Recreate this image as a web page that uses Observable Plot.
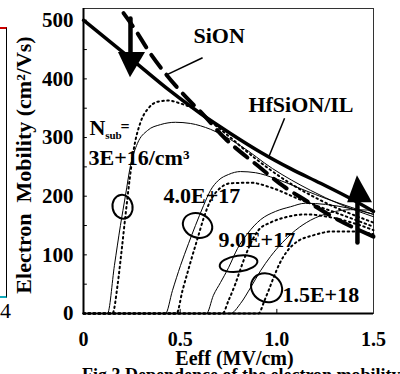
<!DOCTYPE html>
<html><head><meta charset="utf-8">
<script src="https://cdn.jsdelivr.net/npm/d3@7"></script>
<script src="https://cdn.jsdelivr.net/npm/@observablehq/plot@0.6"></script>
<style>
body{margin:0;background:#fff;width:400px;height:374px;overflow:hidden;position:relative;font-family:"Liberation Serif",serif;}
#chart{position:absolute;left:0;top:0;z-index:1;}
#cap{position:absolute;left:82px;top:366px;font-weight:bold;font-size:18px;line-height:18px;white-space:nowrap;z-index:2;}
#frag{position:absolute;left:-2px;top:27px;width:8px;height:267px;border-right:1.5px solid #000;border-top:2px solid #c00;border-bottom:2px solid #1ab;z-index:2;}
#frag4{position:absolute;left:0px;top:298px;font-size:22px;z-index:2;}
</style></head><body>
<div id="chart"></div>
<div id="frag"></div><div id="frag4">4</div>
<div id="cap">Fig.3 Dependence of the electron mobility</div>
<script>
// ---- axes ----
const xTicks = [0, 0.5, 1.0, 1.5];
const xTickLabels = ["0", "0.5", "1.0", "1.5"];
const yTicks = [0, 100, 200, 300, 400, 500];
const yMinorTicks = [50, 100, 150, 200, 250, 300, 350, 400, 450, 500];
const xTitle = "Eeff (MV/cm)";
const yTitle = "Electron\u00a0 Mobility (cm²/Vs)";

// ---- universal curves ----
const hfsionX = [0, 0.243, 0.450, 0.605, 0.760, 0.916, 1.071, 1.226, 1.381, 1.5];
const hfsionY = [500, 435, 379, 341, 307, 275, 247, 222, 196, 174];
const sionX = [0.207, 0.269, 0.336, 0.424, 0.533, 0.605, 0.734, 0.905, 1.034, 1.148, 1.293, 1.5];
const sionY = [512, 483, 448, 409, 368, 344, 298, 251, 217, 193, 164, 131];

// ---- Nsub curves: simulation (solid) ----
const sim3e16X = [0, 0.124, 0.160, 0.191, 0.217, 0.243, 0.279, 0.331, 0.398, 0.476, 0.553, 0.657, 0.812, 0.978, 1.174, 1.329, 1.5];
const sim3e16Y = [0, 0, 82, 150, 201, 252, 290, 312, 322, 326, 324, 314, 286, 247, 210, 186, 165];
const sim4e17X = [0, 0.424, 0.460, 0.502, 0.543, 0.579, 0.621, 0.657, 0.698, 0.750, 0.812, 0.890, 0.993, 1.122, 1.278, 1.5];
const sim4e17Y = [0, 0, 39, 82, 119, 150, 184, 210, 227, 237, 242, 240, 230, 213, 193, 169];
const sim9e17X = [0, 0.636, 0.672, 0.709, 0.750, 0.797, 0.848, 0.916, 0.993, 1.071, 1.148, 1.252, 1.381, 1.5];
const sim9e17Y = [0, 0, 31, 53, 78, 111, 136, 160, 174, 182, 188, 186, 179, 169];
const sim15e18X = [0, 0.760, 0.812, 0.864, 0.916, 0.967, 1.029, 1.097, 1.174, 1.278, 1.381, 1.5];
const sim15e18Y = [0, 0, 17, 44, 73, 97, 121, 142, 159, 172, 177, 176];

// ---- Nsub curves: measured (dotted) ----
const exp3e16X = [0, 0.150, 0.176, 0.197, 0.217, 0.238, 0.259, 0.295, 0.336, 0.383, 0.440, 0.502, 0.564, 0.631, 0.734, 0.890, 1.045, 1.226, 1.5];
const exp3e16Y = [0, 0, 48, 107, 167, 227, 278, 326, 350, 361, 363, 358, 350, 334, 307, 264, 227, 193, 155];
const exp4e17X = [0, 0.481, 0.512, 0.553, 0.590, 0.621, 0.657, 0.698, 0.760, 0.864, 0.967, 1.122, 1.329, 1.5];
const exp4e17Y = [0, 0, 39, 87, 128, 162, 193, 211, 222, 223, 215, 194, 169, 148];
const exp9e17X = [0, 0.719, 0.750, 0.786, 0.822, 0.864, 0.905, 0.967, 1.045, 1.148, 1.278, 1.407, 1.5];
const exp9e17Y = [0, 0, 22, 51, 85, 119, 142, 155, 164, 169, 164, 153, 142];
const exp15e18X = [0, 0.905, 0.936, 0.957, 0.983, 1.014, 1.055, 1.107, 1.185, 1.293, 1.407, 1.5];
const exp15e18Y = [0, 0, 22, 39, 61, 85, 107, 123, 133, 140, 140, 135];

// ---- annotations ----
const labelText = ["SiON", "HfSiON/IL", "3E+16/cm³", "4.0E+17", "9.0E+17", "1.5E+18"];
const labelX = [0.569, 0.853, 0.026, 0.414, 0.698, 1.029];
const labelY = [474, 355, 266, 201, 126, 32];
const nsubText = ["N", "sub", "="];
const nsubX = [0.031, 0.112, 0.192];
const nsubY = [317, 304, 319];
const leaderX1 = [0.424, 1.040], leaderY1 = [406, 333];
const leaderX2 = [0.616, 0.957], leaderY2 = [436, 266];
const arrowName = ["down", "up"];
const arrowX = [0.243, 1.417];
const arrowFrom = [503, 121];
const arrowTo = [445, 189];
const headLeft = [0.181, 1.366], headRight = [0.321, 1.495];
const headTip = [402, 235];
const ovalX = [0.202, 0.590, 0.802, 0.947];
const ovalY = [182, 150, 85, 44];

// ---- build tables ----
const rows = (name, xs, ys) => xs.map((x, i) => ({name, x, y: ys[i]}));
const simRows = [
  ...rows("3e16", sim3e16X, sim3e16Y), ...rows("4e17", sim4e17X, sim4e17Y),
  ...rows("9e17", sim9e17X, sim9e17Y), ...rows("15e18", sim15e18X, sim15e18Y)];
const expRows = [
  ...rows("3e16", exp3e16X, exp3e16Y), ...rows("4e17", exp4e17X, exp4e17Y),
  ...rows("9e17", exp9e17X, exp9e17Y), ...rows("15e18", exp15e18X, exp15e18Y)];
const labels = labelText.map((t, i) => ({t, x: labelX[i], y: labelY[i]}));
const nsub = nsubText.map((t, i) => ({t, x: nsubX[i], y: nsubY[i]}));
const leaders = leaderX1.map((_, i) => ({x1: leaderX1[i], y1: leaderY1[i], x2: leaderX2[i], y2: leaderY2[i]}));
const shafts = arrowName.flatMap((n, i) => [{n, x: arrowX[i], y: arrowFrom[i]}, {n, x: arrowX[i], y: arrowTo[i]}]);
const heads = arrowName.flatMap((n, i) => [
  {n, x: headLeft[i], y1: arrowTo[i], y2: arrowTo[i]},
  {n, x: arrowX[i], y1: arrowTo[i], y2: headTip[i]},
  {n, x: headRight[i], y1: arrowTo[i], y2: arrowTo[i]}]);
const ovals = ovalX.map((x, i) => ({x, y: ovalY[i]}));

// ellipse symbol (style only: radii in px, tilt in degrees)
const ovalShape = [[10, 12, -10], [15, 12, 20], [19, 8, -8], [16, 14, 30]];
function ellipseSymbol(rx, ry, deg) {
  const a = deg * Math.PI / 180, c = Math.cos(a), s = Math.sin(a), k = 0.5523;
  const P = (x, y) => [x * c - y * s, x * s + y * c];
  const pts = [[rx,0],[rx,k*ry],[k*rx,ry],[0,ry],[-k*rx,ry],[-rx,k*ry],[-rx,0],[-rx,-k*ry],[-k*rx,-ry],[0,-ry],[k*rx,-ry],[rx,-k*ry],[rx,0]].map(p => P(p[0], p[1]));
  return {draw(ctx) {
    ctx.moveTo(pts[0][0], pts[0][1]);
    for (let i = 1; i < pts.length; i += 3) ctx.bezierCurveTo(pts[i][0], pts[i][1], pts[i+1][0], pts[i+1][1], pts[i+2][0], pts[i+2][1]);
    ctx.closePath();
  }};
}

const bold = {fontWeight: "bold", fill: "black"};
const chart = Plot.plot({
  width: 400, height: 374,
  marginLeft: 83, marginRight: 27, marginTop: 8, marginBottom: 61,
  x: {domain: [0, 1.5]},
  y: {domain: [0, 520]},
  style: {fontFamily: "'Liberation Serif', serif", fontWeight: "bold", fontSize: "21px", background: "white", color: "black"},
  marks: [
    Plot.frame({stroke: "#333", strokeWidth: 1}),
    Plot.ruleX([0], {strokeWidth: 2}),
    Plot.ruleY([0], {strokeWidth: 2}),
    Plot.ruleY(yMinorTicks, {x1: 0, x2: 0.02, strokeWidth: 1}),
    Plot.ruleX([0.5, 1.0], {y1: 0, y2: 7, strokeWidth: 1}),
    Plot.axisY({ticks: yTicks, tickSize: 0, tickPadding: 10, label: null, fontSize: 21, fontWeight: "bold"}),
    Plot.axisX({ticks: xTicks, tickFormat: d => xTickLabels[xTicks.indexOf(d)], tickSize: 0, tickPadding: 18, label: null, fontSize: 20, fontWeight: "bold"}),
    Plot.text([yTitle], {frameAnchor: "left", textAnchor: "middle", lineAnchor: "middle", text: d => d, rotate: -90, dx: -60, dy: 4, fontSize: 22, ...bold}),
    Plot.text([xTitle], {frameAnchor: "bottom", lineAnchor: "middle", text: d => d, dx: 6, dy: 45, fontSize: 20, ...bold}),
    // Nsub curves
    Plot.line(simRows, {x: "x", y: "y", z: "name", stroke: "black", strokeWidth: 1, curve: "monotone-x"}),
    Plot.line(expRows, {x: "x", y: "y", z: "name", stroke: "black", strokeWidth: 2, strokeDasharray: "1.6,3.4", curve: "monotone-x"}),
    // universal curves
    Plot.line(rows("SiON", sionX, sionY), {x: "x", y: "y", stroke: "black", strokeWidth: 4, strokeDasharray: "16,9", curve: "monotone-x"}),
    Plot.line(rows("HfSiON", hfsionX, hfsionY), {x: "x", y: "y", stroke: "black", strokeWidth: 3.5, curve: "monotone-x"}),
    // leaders and arrows
    Plot.link(leaders, {x1: "x1", y1: "y1", x2: "x2", y2: "y2", stroke: "black", strokeWidth: 1.5}),
    Plot.line(shafts, {x: "x", y: "y", z: "n", stroke: "black", strokeWidth: 4.5}),
    Plot.areaY(heads, {x: "x", y1: "y1", y2: "y2", z: "n", fill: "black"}),
    // ovals
    ...ovals.map((o, i) => Plot.dot([o], {x: "x", y: "y", r: 10, symbol: ellipseSymbol(...ovalShape[i]), stroke: "black", strokeWidth: 2, fill: "none"})),
    // labels
    Plot.text(labels, {x: "x", y: "y", text: "t", textAnchor: "start", fontSize: 22, ...bold}),
    Plot.text(nsub.slice(0, 1), {x: "x", y: "y", text: "t", textAnchor: "start", fontSize: 22, ...bold}),
    Plot.text(nsub.slice(1, 2), {x: "x", y: "y", text: "t", textAnchor: "start", fontSize: 11, ...bold}),
    Plot.text(nsub.slice(2, 3), {x: "x", y: "y", text: "t", textAnchor: "start", fontSize: 16, ...bold})
  ]
});
document.getElementById("chart").appendChild(chart);
</script>
</body></html>
